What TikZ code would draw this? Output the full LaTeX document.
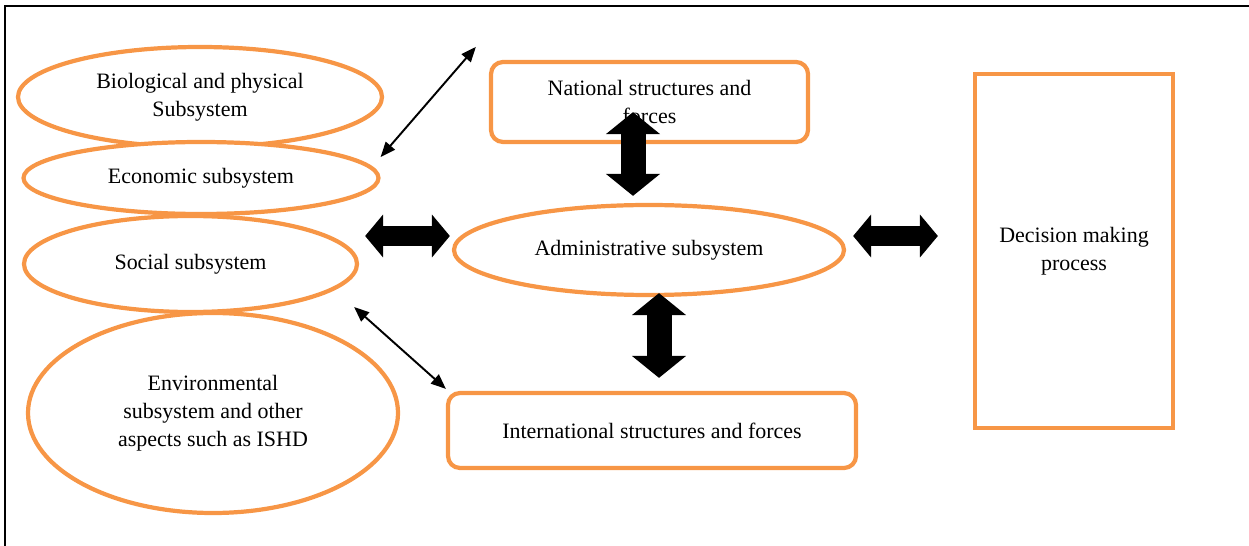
\documentclass[tikz,border=0pt]{standalone}
\usepackage{fontspec}
\setmainfont{Liberation Serif}
\usetikzlibrary{arrows.meta,shapes.geometric}

\definecolor{accent}{HTML}{F79646}

\begin{document}
\begin{tikzpicture}[font=\fontsize{12.5}{16}\selectfont]
      \useasboundingbox (0,0) rectangle (24.98,-10.92);
      \draw[line width=1.7pt] (0.1,-10.92) -- (0.1,-0.12) -- (24.98,-0.12);
      \begin{scope}[every node/.style={draw= accent,line width=2.4pt,align=center,inner sep=0pt}]
        \node[ellipse,minimum width=7.28cm,minimum height=2cm] (bio) at (4.0,-1.94) {Biological and physical\\Subsystem};
        \node[ellipse,minimum width=7.1cm,minimum height=1.44cm,fill=white] (eco) at (4.02,-3.56) {Economic subsystem};
        \node[ellipse,minimum width=6.66cm,minimum height=1.92cm] (soc) at (3.81,-5.28) {Social subsystem};
        \node[ellipse,minimum width=7.4cm,minimum height=4cm] (env) at (4.26,-8.26) {Environmental\\subsystem and other\\aspects such as ISHD};
        \node[rectangle,rounded corners=0.24cm,minimum width=6.34cm,minimum height=1.6cm] (nat) at (12.99,-2.04) {National structures and\\forces};
        \node[ellipse,minimum width=7.8cm,minimum height=1.8cm] (adm) at (12.98,-5.0) {Administrative subsystem};
        \node[rectangle,rounded corners=0.24cm,minimum width=8.16cm,minimum height=1.5cm] (int) at (13.04,-8.61) {International structures and forces};
        \node[rectangle,minimum width=3.96cm,minimum height=7.08cm] (dec) at (21.48,-5.02) {Decision making\\process};
      \end{scope}
      \begin{scope}
        [every edge/.style={draw= black},
        thin arrow/.style={line width=1.1pt,{Triangle[length=0.3cm,width=0.24cm]}-{Triangle[length=0.3cm,width=0.24cm]}},
        hblock/.style={line width=0.4cm,{Triangle[length=0.36cm,width=0.84cm]}-{Triangle[length=0.36cm,width=0.84cm]}},
        vblock/.style={line width=0.5cm,{Triangle[length=0.44cm,width=1.06cm]}-{Triangle[length=0.44cm,width=1.06cm]}}]
        \path ([yshift=0.42cm]eco.east) edge[thin arrow] ([shift={(-0.26cm,0.26cm)}]nat.north west);
        \path ([shift={(-0.1cm,-0.86cm)}]soc.east) edge[thin arrow] ([shift={(0cm,0.04cm)}]int.north west);
        \path ([yshift=0.28cm]adm.west -| soc.east) edge[hblock,shorten <=0.12cm,shorten >=0.04cm] ([yshift=0.28cm]adm.west);
        \path ([yshift=0.28cm]adm.east) edge[hblock,shorten <=0.14cm,shorten >=0.7cm] ([yshift=0.28cm]adm.east -| dec.west);
        \path ([xshift=-0.32cm]adm.north |- nat.south) edge[vblock,shorten <=-0.64cm,shorten >=0.14cm] ([xshift=-0.32cm]adm.north);
        \path ([xshift=0.2cm]adm.south) edge[vblock,shorten <=-0.08cm,shorten >=0.26cm] ([xshift=0.2cm]adm.south |- int.north);
      \end{scope}
    \end{tikzpicture}
\end{document}
